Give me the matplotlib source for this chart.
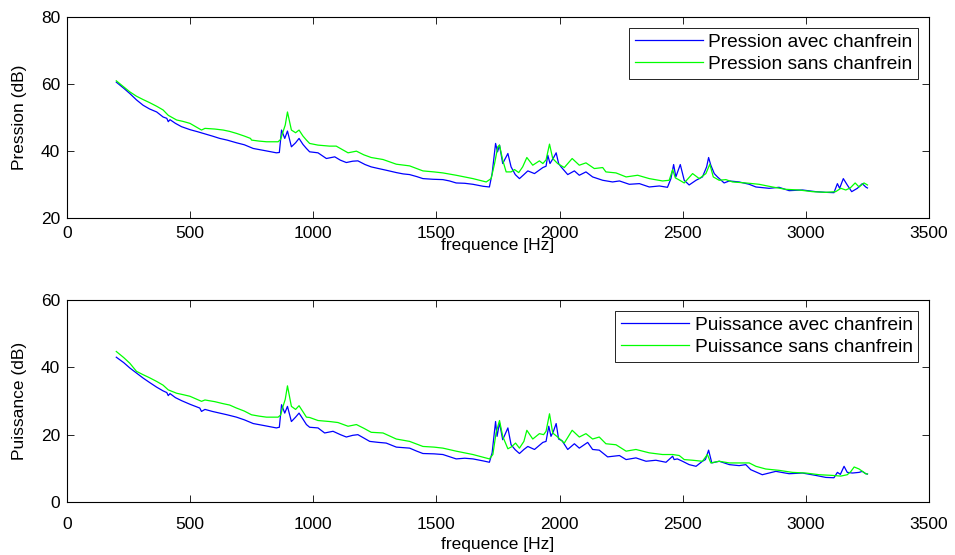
import matplotlib
matplotlib.use("Agg")
import matplotlib.pyplot as plt

plt.rcParams['font.family'] = ['Liberation Sans', 'DejaVu Sans']

# ---- Top plot: pressure ----
p_avec_f = [200, 230, 255, 282, 309, 335, 364, 390, 405, 411, 418, 440, 465, 500, 530, 553, 590, 620, 650, 688, 720, 756, 800, 850, 862, 871, 884, 895, 911, 928, 942, 958, 972, 985, 1019, 1053, 1087, 1110, 1134, 1160, 1181, 1210, 1235, 1265, 1296, 1337, 1365, 1391, 1420, 1445, 1486, 1526, 1553, 1580, 1615, 1648, 1690, 1715, 1726, 1740, 1748, 1756, 1769, 1790, 1803, 1820, 1837, 1855, 1871, 1898, 1932, 1945, 1952, 1961, 1975, 1986, 1996, 2006, 2033, 2060, 2080, 2107, 2134, 2175, 2215, 2243, 2283, 2324, 2364, 2405, 2438, 2452, 2463, 2472, 2490, 2506, 2526, 2554, 2580, 2597, 2605, 2614, 2628, 2641, 2668, 2689, 2729, 2770, 2797, 2851, 2891, 2932, 2986, 3040, 3081, 3114, 3128, 3137, 3152, 3168, 3186, 3209, 3229, 3243, 3250]
p_avec = [60.6, 58.8, 57.2, 55.3, 53.7, 52.6, 51.7, 50.2, 49.8, 48.8, 49.4, 48.3, 47.3, 46.4, 45.8, 45.3, 44.5, 43.8, 43.3, 42.5, 41.9, 40.8, 40.2, 39.5, 39.6, 46.3, 43.8, 46.0, 41.3, 42.5, 43.8, 42.0, 40.8, 39.8, 39.5, 37.8, 38.3, 37.3, 36.6, 37.0, 37.1, 36.0, 35.3, 34.8, 34.3, 33.6, 33.2, 33.0, 32.4, 31.8, 31.6, 31.5, 31.1, 30.5, 30.4, 30.1, 29.5, 29.3, 33.3, 42.3, 39.8, 41.8, 36.3, 39.3, 35.3, 33.0, 31.8, 33.0, 34.1, 33.3, 35.1, 35.5, 38.8, 36.3, 38.0, 39.5, 36.3, 35.3, 33.0, 34.1, 32.8, 33.8, 32.3, 31.3, 30.8, 31.1, 30.1, 30.3, 29.3, 29.6, 29.2, 31.8, 36.0, 32.3, 36.0, 31.3, 29.9, 31.3, 32.3, 35.3, 38.1, 35.8, 33.3, 32.3, 30.5, 31.1, 30.8, 30.1, 29.3, 28.9, 29.2, 28.2, 28.4, 27.9, 27.7, 27.6, 30.3, 28.9, 31.8, 29.9, 27.9, 28.9, 30.3, 29.3, 29.0]

p_sans_f = [200, 230, 255, 282, 309, 335, 364, 390, 411, 445, 470, 499, 546, 560, 600, 634, 660, 688, 720, 745, 749, 780, 810, 857, 867, 877, 886, 895, 911, 928, 942, 958, 972, 985, 1019, 1066, 1093, 1141, 1175, 1205, 1235, 1283, 1337, 1391, 1445, 1490, 1526, 1580, 1648, 1702, 1722, 1736, 1749, 1756, 1769, 1783, 1803, 1817, 1834, 1850, 1867, 1891, 1918, 1932, 1945, 1959, 1972, 1992, 2019, 2051, 2080, 2107, 2141, 2175, 2188, 2229, 2270, 2317, 2364, 2418, 2445, 2459, 2470, 2483, 2506, 2540, 2567, 2594, 2610, 2624, 2648, 2675, 2702, 2756, 2810, 2864, 2918, 2972, 3026, 3081, 3121, 3142, 3162, 3180, 3200, 3216, 3236, 3250]
p_sans = [61.0, 59.2, 57.7, 56.4, 55.4, 54.5, 53.4, 52.3, 50.7, 49.3, 48.9, 48.3, 46.3, 46.8, 46.6, 46.3, 45.9, 45.3, 44.5, 43.8, 43.3, 43.0, 42.8, 42.8, 43.5, 45.8, 47.8, 51.7, 46.3, 45.5, 46.3, 44.5, 43.3, 42.3, 41.8, 41.5, 41.5, 39.5, 40.0, 38.9, 38.1, 37.5, 36.1, 35.6, 34.1, 33.8, 33.5, 32.8, 31.8, 30.8, 31.8, 36.3, 41.3, 41.8, 37.3, 33.8, 33.8, 34.5, 33.6, 35.3, 38.1, 35.8, 37.1, 36.3, 37.4, 42.1, 37.8, 36.3, 35.1, 37.8, 35.8, 36.5, 34.8, 35.1, 33.8, 33.5, 32.3, 32.8, 31.8, 31.1, 31.3, 34.5, 32.0, 31.5, 30.5, 33.3, 31.8, 33.3, 36.1, 32.3, 31.3, 31.5, 30.8, 30.5, 30.1, 29.3, 28.6, 28.4, 27.9, 27.7, 27.9, 28.9, 28.4, 29.0, 30.5, 29.3, 30.5, 29.9]

# ---- Bottom plot: power ----
w_avec_f = [200, 230, 255, 282, 309, 335, 364, 390, 405, 411, 418, 440, 465, 500, 539, 546, 560, 590, 620, 650, 688, 720, 756, 800, 850, 862, 871, 884, 895, 911, 928, 942, 958, 972, 985, 1019, 1046, 1080, 1110, 1134, 1160, 1181, 1229, 1265, 1296, 1337, 1391, 1420, 1445, 1490, 1526, 1580, 1615, 1648, 1690, 1715, 1726, 1740, 1746, 1756, 1769, 1790, 1803, 1820, 1837, 1855, 1871, 1898, 1932, 1945, 1956, 1965, 1975, 1986, 1996, 2010, 2033, 2060, 2080, 2114, 2134, 2161, 2195, 2243, 2270, 2310, 2351, 2391, 2432, 2459, 2465, 2478, 2499, 2526, 2554, 2580, 2592, 2605, 2618, 2648, 2689, 2729, 2756, 2776, 2823, 2878, 2932, 2986, 3040, 3081, 3114, 3128, 3140, 3155, 3168, 3189, 3216, 3229, 3243, 3250]
w_avec = [43.0, 41.4, 39.8, 38.3, 36.8, 35.5, 34.1, 33.0, 32.5, 31.6, 32.2, 31.0, 30.1, 29.0, 27.9, 26.9, 27.5, 26.9, 26.4, 25.9, 25.2, 24.4, 23.3, 22.7, 22.0, 22.2, 28.9, 26.4, 28.4, 23.9, 25.2, 26.4, 24.6, 23.0, 22.2, 22.0, 20.5, 21.0, 20.0, 19.3, 19.8, 20.0, 18.0, 17.7, 17.5, 16.3, 16.0, 15.1, 14.4, 14.3, 14.1, 12.8, 13.0, 12.8, 12.2, 11.8, 14.6, 23.9, 19.5, 23.5, 18.5, 22.0, 17.0, 15.5, 14.4, 15.6, 16.5, 15.6, 17.7, 18.0, 22.5, 19.5, 21.0, 23.3, 18.7, 18.2, 15.6, 17.3, 16.0, 17.7, 15.6, 15.4, 13.4, 13.8, 12.6, 13.1, 12.1, 12.4, 11.8, 13.6, 12.6, 12.8, 12.1, 11.1, 10.6, 12.1, 12.6, 15.4, 11.6, 12.1, 11.1, 10.8, 11.1, 9.6, 8.1, 9.1, 8.4, 8.6, 7.9, 7.3, 7.2, 8.8, 8.2, 10.6, 8.8, 8.6, 8.8, 9.1, 8.4, 8.3]

w_sans_f = [200, 230, 255, 282, 309, 335, 364, 390, 411, 445, 470, 499, 546, 560, 600, 634, 660, 688, 720, 749, 780, 810, 857, 867, 877, 886, 895, 911, 928, 942, 958, 972, 985, 1019, 1066, 1100, 1141, 1175, 1205, 1235, 1283, 1337, 1391, 1445, 1490, 1526, 1580, 1648, 1715, 1729, 1742, 1756, 1769, 1790, 1805, 1821, 1837, 1855, 1867, 1891, 1918, 1935, 1945, 1959, 1972, 1992, 2019, 2051, 2080, 2107, 2134, 2161, 2188, 2229, 2270, 2310, 2364, 2418, 2459, 2486, 2506, 2540, 2580, 2600, 2614, 2648, 2689, 2770, 2797, 2837, 2891, 2945, 3000, 3054, 3107, 3142, 3168, 3182, 3196, 3216, 3243, 3250]
w_sans = [44.7, 42.9, 41.2, 38.8, 37.8, 36.9, 35.8, 34.7, 33.3, 32.3, 31.9, 31.4, 29.9, 30.3, 29.8, 29.2, 28.8, 27.9, 27.0, 25.9, 25.5, 25.2, 25.2, 25.8, 28.4, 30.5, 34.5, 28.4, 27.5, 28.6, 26.8, 25.2, 25.1, 24.2, 23.9, 23.6, 22.5, 23.0, 21.9, 20.7, 20.5, 18.7, 18.0, 16.5, 16.3, 16.0, 15.1, 14.1, 12.8, 14.1, 20.5, 24.2, 19.5, 15.8, 16.4, 17.5, 16.0, 18.0, 21.3, 18.7, 20.3, 20.0, 21.0, 26.2, 20.5, 19.3, 17.5, 21.3, 19.3, 20.3, 18.7, 19.3, 17.3, 17.0, 15.1, 15.6, 14.6, 14.1, 14.1, 13.8, 12.6, 12.4, 12.1, 14.1, 11.6, 12.1, 11.6, 11.6, 10.6, 9.8, 9.4, 8.8, 8.6, 8.1, 7.9, 7.7, 8.1, 9.0, 10.4, 9.8, 8.4, 8.3]

xticks = [0, 500, 1000, 1500, 2000, 2500, 3000, 3500]
top_yticks = [20, 40, 60, 80]
bot_yticks = [0, 20, 40, 60]

fig = plt.figure(figsize=(9.55, 5.55), dpi=100)
ax1 = fig.add_axes([0.0702, 0.607, 0.9026, 0.362])
ax2 = fig.add_axes([0.0702, 0.0955, 0.9026, 0.364])

BLUE = (0, 0, 1)
GREEN = (0, 1, 0)
FS = 12.5

ax1.plot(p_avec_f, p_avec, color=BLUE, lw=0.9, label='Pression avec chanfrein')
ax1.plot(p_sans_f, p_sans, color=GREEN, lw=0.9, label='Pression sans chanfrein')
ax1.set_ylim(20, 80)
ax1.set_yticks(top_yticks)
ax1.set_ylabel('Pression (dB)', fontsize=FS, labelpad=10)

ax2.plot(w_avec_f, w_avec, color=BLUE, lw=0.9, label='Puissance avec chanfrein')
ax2.plot(w_sans_f, w_sans, color=GREEN, lw=0.9, label='Puissance sans chanfrein')
ax2.set_ylim(0, 60)
ax2.set_yticks(bot_yticks)
ax2.set_ylabel('Puissance (dB)', fontsize=FS, labelpad=10)

for ax, tpad, lpad in ((ax1, 5.5, -2), (ax2, 10.5, 4)):
    ax.set_xlim(0, 3500)
    ax.set_xticks(xticks)
    ax.set_xlabel('frequence [Hz]', fontsize=FS, labelpad=lpad)
    ax.tick_params(direction='in', top=True, right=True, labelsize=FS, length=5, width=0.6)
    ax.tick_params(axis='x', pad=tpad)
    ax.tick_params(axis='y', pad=5)
    for s in ax.spines.values():
        s.set_linewidth(0.8)
    leg = ax.legend(loc='upper right', fontsize=13.8, frameon=True, fancybox=False,
                    edgecolor='black', framealpha=1, handlelength=3.55,
                    borderpad=0.3, labelspacing=0.25, handletextpad=0.3,
                    borderaxespad=0.55)
    leg.get_frame().set_linewidth(0.6)

fig.savefig('out.png', dpi=100)
